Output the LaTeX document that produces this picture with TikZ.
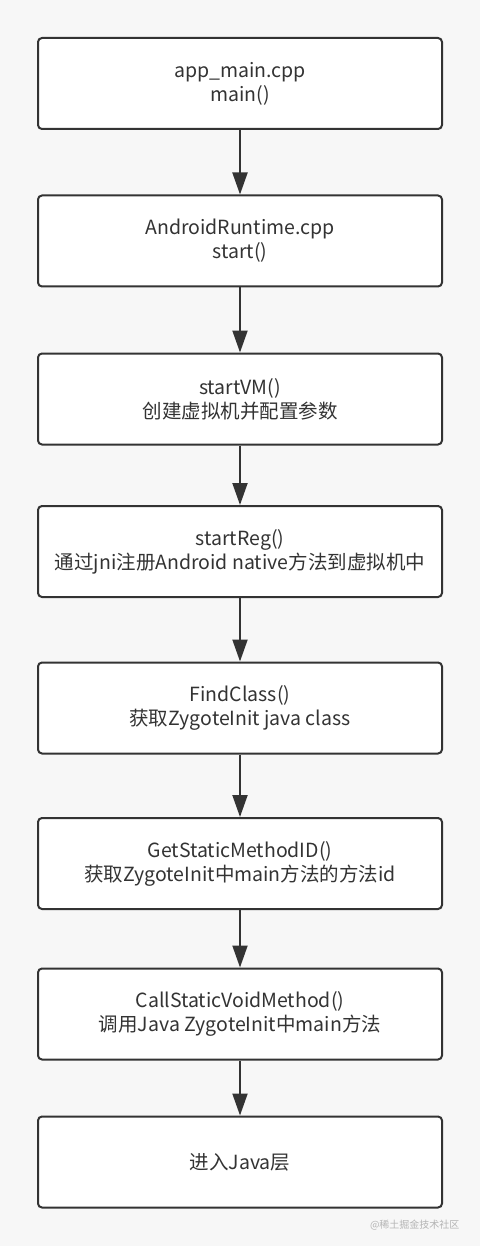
\documentclass[tikz,border=0pt]{standalone}
\usepackage{fontspec}
\setmainfont{Noto Sans CJK SC}
\usepackage{tikz}
\usepackage{xcolor}
\usetikzlibrary{arrows.meta}

\definecolor{bgGray}{HTML}{F7F7F7}
\definecolor{lineGray}{HTML}{333333}
\definecolor{markGray}{HTML}{B4B4B4}

\tikzset{
	stepbox/.style={draw=lineGray, line width=2pt, rounded corners=4pt, fill=white,
		minimum width=404pt, minimum height=91pt, inner sep=0pt, align=center,
		text=lineGray, font=\fontsize{19.5}{24}\selectfont},
	flow/.style={draw=lineGray, line width=2pt, -{Triangle[length=22pt,width=15pt]}}
}

\begin{document}
\begin{tikzpicture}[x=1pt, y=-1pt]
				% Background
				\fill[bgGray] (0,0) rectangle (480,1246);
				\useasboundingbox (0,0) rectangle (480,1246);
				
				% Steps
				\node[stepbox] (appmain) at (240,83.5) {app\_main.cpp\\main()};
				\node[stepbox] (runtime) at (240,241) {AndroidRuntime.cpp\\start()};
				\node[stepbox] (startvm) at (240,399) {startVM()\\创建虚拟机并配置参数};
				\node[stepbox] (startreg) at (240,551.5) {startReg()\\通过jni注册Android native方法到虚拟机中};
				\node[stepbox] (findclass) at (240,708) {FindClass()\\获取ZygoteInit java class};
				\node[stepbox] (methodid) at (240,863.5) {GetStaticMethodID()\\获取ZygoteInit中main方法的方法id};
				\node[stepbox] (callmain) at (240,1014) {CallStaticVoidMethod()\\调用Java ZygoteInit中main方法};
				\node[stepbox] (javalayer) at (240,1162) {进入Java层};
				
				% Arrows between steps
				\draw[flow] (appmain) -- (runtime);
				\draw[flow] (runtime) -- (startvm);
				\draw[flow] (startvm) -- (startreg);
				\draw[flow] (startreg) -- (findclass);
				\draw[flow] (findclass) -- (methodid);
				\draw[flow] (methodid) -- (callmain);
				\draw[flow] (callmain) -- (javalayer);
				
				% Watermark
				\node[anchor=east, text=markGray, font=\fontsize{10}{12}\selectfont] (mark) at (463,1225) {@稀土掘金技术社区};
			\end{tikzpicture}
\end{document}
